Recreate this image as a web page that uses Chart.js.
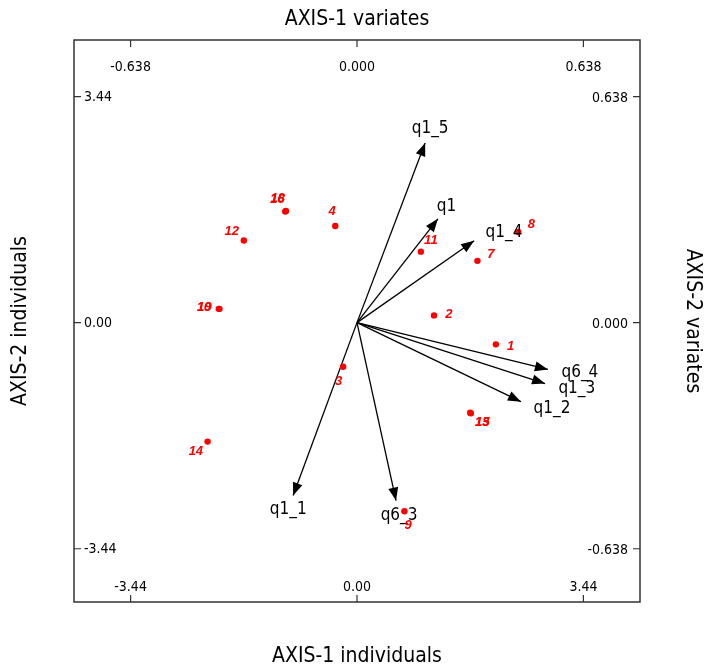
<!DOCTYPE html>
<html><head><meta charset="utf-8">
<script src="https://cdn.jsdelivr.net/npm/chart.js@4.4.1/dist/chart.umd.min.js"></script>
<style>html,body{margin:0;padding:0;background:#fff}</style>
</head><body>
<canvas id="c" width="705" height="670"></canvas>
<script>
// ---- data ----
const individualLabels = ['1','2','3','4','7','8','9','10','11','12','13','14','15','16','18','19'];
const axis1Individuals = [2.11, 1.17, -0.21, -0.33, 1.83, 2.45, 0.72, -2.10, 0.97, -1.72, 1.72, -2.27, 1.73, -1.09, -1.08, -2.09];
const axis2Individuals = [-0.33, 0.11, -0.67, 1.47, 0.94, 1.38, -2.87, 0.21, 1.08, 1.25, -1.37, -1.81, -1.38, 1.69, 1.70, 0.21];

const variableLabels = ['q1_5','q1','q1_4','q6_4','q1_3','q1_2','q1_1','q6_3'];
const axis1Variates = [0.192, 0.228, 0.330, 0.538, 0.530, 0.462, -0.180, 0.110];
const axis2Variates = [0.507, 0.293, 0.231, -0.132, -0.172, -0.223, -0.488, -0.502];

const individualTicks = [-3.44, 0, 3.44];
const individualTickLabels = ['-3.44', '0.00', '3.44'];
const variateTicks = [-0.638, 0, 0.638];
const variateTickLabels = ['-0.638', '0.000', '0.638'];

const titles = {
  top: 'AXIS-1 variates',
  bottom: 'AXIS-1 individuals',
  left: 'AXIS-2 individuals',
  right: 'AXIS-2 variates'
};

// ---- scale ranges ----
const ratio = 3.44 / 0.638;
const xRange = [-4.30, 4.30];
const yRange = [-4.25, 4.30];

const individuals = axis1Individuals.map((x, i) => ({x, y: axis2Individuals[i]}));

const datasets = [{
  label: 'individuals',
  data: individuals,
  xAxisID: 'x', yAxisID: 'y',
  pointRadius: 3.2, pointBackgroundColor: '#ff0000', pointBorderColor: '#ff0000',
  pointBorderWidth: 0, showLine: false
}];
variableLabels.forEach((name, i) => {
  datasets.push({
    label: name,
    data: [{x: 0, y: 0}, {x: axis1Variates[i], y: axis2Variates[i]}],
    xAxisID: 'x2', yAxisID: 'y2',
    showLine: true, borderColor: '#000', borderWidth: 1.3,
    pointRadius: 0, fill: false
  });
});

const decor = {
  id: 'decor',
  afterDatasetsDraw(chart) {
    const ctx = chart.ctx;
    const a = chart.chartArea;
    const sx = chart.scales.x, sy = chart.scales.y, sx2 = chart.scales.x2, sy2 = chart.scales.y2;
    ctx.save();
    // frame
    ctx.strokeStyle = '#333';
    ctx.lineWidth = 1.5;
    ctx.strokeRect(a.left, a.top, a.right - a.left, a.bottom - a.top);
    // ticks
    const tl = 7;
    ctx.lineWidth = 1.2;
    ctx.fillStyle = '#000';
    ctx.font = '14px "Liberation Sans Narrow", "DejaVu Sans Condensed", sans-serif';
    ctx.beginPath();
    variateTicks.forEach((v) => {
      const px = sx2.getPixelForValue(v);
      ctx.moveTo(px, a.top); ctx.lineTo(px, a.top + tl);
      const py = sy2.getPixelForValue(v);
      ctx.moveTo(a.right, py); ctx.lineTo(a.right - tl, py);
    });
    individualTicks.forEach((v) => {
      const px = sx.getPixelForValue(v);
      ctx.moveTo(px, a.bottom); ctx.lineTo(px, a.bottom - tl);
      const py = sy.getPixelForValue(v);
      ctx.moveTo(a.left, py); ctx.lineTo(a.left + tl, py);
    });
    ctx.stroke();
    ctx.textBaseline = 'middle';
    ctx.textAlign = 'center';
    variateTicks.forEach((v, i) => {
      ctx.fillText(variateTickLabels[i], sx2.getPixelForValue(v), a.top + 27);
    });
    individualTicks.forEach((v, i) => {
      ctx.fillText(individualTickLabels[i], sx.getPixelForValue(v), a.bottom - 15);
    });
    ctx.textAlign = 'left';
    individualTicks.forEach((v, i) => {
      ctx.fillText(individualTickLabels[i], a.left + 10, sy.getPixelForValue(v) + 1);
    });
    ctx.textAlign = 'right';
    variateTicks.forEach((v, i) => {
      ctx.fillText(variateTickLabels[i], a.right - 12, sy2.getPixelForValue(v) + 2);
    });

    // titles
    ctx.font = '21px "DejaVu Sans Condensed", "DejaVu Sans"';
    ctx.textAlign = 'center';
    const cx = (a.left + a.right) / 2;
    const cy = (a.top + a.bottom) / 2;
    ctx.fillText(titles.top, cx, 20);
    ctx.fillText(titles.bottom, cx, 657);
    ctx.save();
    ctx.translate(21, cy); ctx.rotate(-Math.PI / 2);
    ctx.fillText(titles.left, 0, 0);
    ctx.restore();
    ctx.save();
    ctx.translate(692, cy); ctx.rotate(Math.PI / 2);
    ctx.fillText(titles.right, 0, 0);
    ctx.restore();

    // arrowheads + variable labels
    const ox = sx2.getPixelForValue(0), oy = sy2.getPixelForValue(0);
    ctx.font = '17px "DejaVu Sans Condensed", "DejaVu Sans"';
    variableLabels.forEach((name, i) => {
      const tx = sx2.getPixelForValue(axis1Variates[i]);
      const ty = sy2.getPixelForValue(axis2Variates[i]);
      const dx = tx - ox, dy = ty - oy, L = Math.hypot(dx, dy);
      const ux = dx / L, uy = dy / L;
      const hl = 13, hw = 5;
      ctx.fillStyle = '#000';
      ctx.beginPath();
      ctx.moveTo(tx, ty);
      ctx.lineTo(tx - ux * hl - uy * hw, ty - uy * hl + ux * hw);
      ctx.lineTo(tx - ux * hl + uy * hw, ty - uy * hl - ux * hw);
      ctx.closePath();
      ctx.fill();
      ctx.textAlign = ux > 0.65 ? 'left' : (ux < -0.65 ? 'right' : 'center');
      ctx.fillText(name, tx + ux * 14, ty + uy * 15);
    });

    // individual labels
    const x0 = sx.getPixelForValue(0), y0 = sy.getPixelForValue(0);
    ctx.font = 'italic bold 13px "Liberation Sans", Arial';
    ctx.fillStyle = '#ff0000';
    ctx.textAlign = 'center';
    individuals.forEach((p, i) => {
      const px = sx.getPixelForValue(p.x), py = sy.getPixelForValue(p.y);
      const dx = px - x0, dy = py - y0, L = Math.hypot(dx, dy) || 1;
      ctx.fillText(individualLabels[i], px + dx / L * 15, py + dy / L * 15);
    });
    ctx.restore();
  }
};

new Chart(document.getElementById('c'), {
  type: 'scatter',
  data: { datasets },
  options: {
    responsive: false,
    animation: false,
    devicePixelRatio: 1,
    layout: { padding: { left: 74, top: 40, right: 65, bottom: 68 } },
    plugins: { legend: { display: false }, tooltip: { enabled: false } },
    scales: {
      x: { type: 'linear', display: false, min: xRange[0], max: xRange[1] },
      y: { type: 'linear', display: false, min: yRange[0], max: yRange[1] },
      x2: { type: 'linear', display: false, min: xRange[0] / ratio, max: xRange[1] / ratio },
      y2: { type: 'linear', display: false, min: yRange[0] / ratio, max: yRange[1] / ratio }
    }
  },
  plugins: [decor]
});
</script>
</body></html>
